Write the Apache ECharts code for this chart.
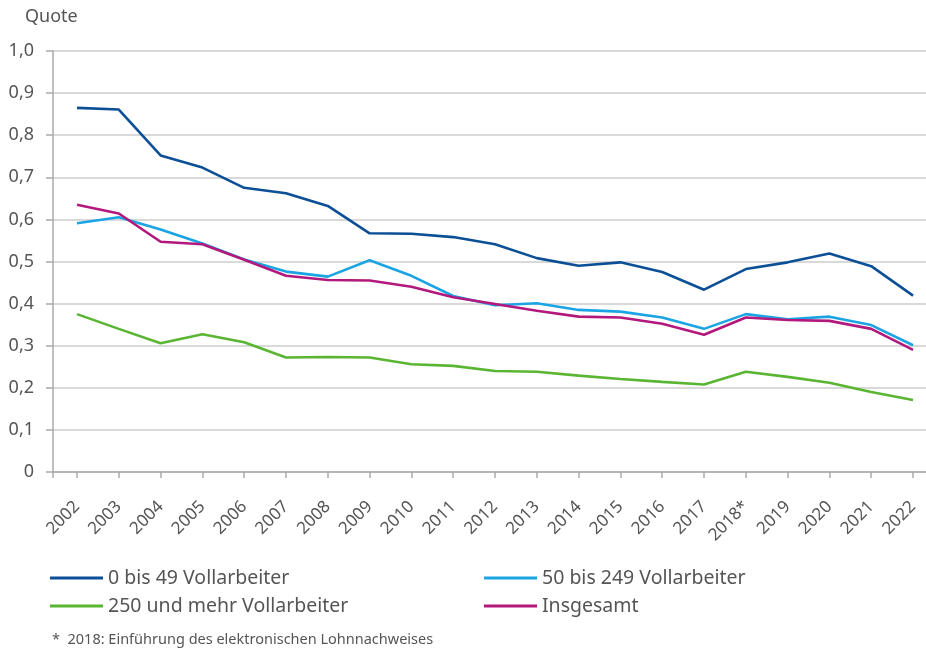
<!DOCTYPE html>
<html><head><meta charset="utf-8">
<script src="https://cdn.jsdelivr.net/npm/echarts@6/dist/echarts.min.js"></script>
<style>html,body{margin:0;padding:0;background:#fff}#c{width:926px;height:650px}</style>
</head><body><div id="c"></div>
<script>
const years = [2002,2003,2004,2005,2006,2007,2008,2009,2010,2011,2012,2013,2014,2015,2016,2017,2018,2019,2020,2021,2022];
const yearLabels = ['2002','2003','2004','2005','2006','2007','2008','2009','2010','2011','2012','2013','2014','2015','2016','2017','2018*','2019','2020','2021','2022'];
const small = [0.865,0.861,0.752,0.723,0.675,0.662,0.632,0.567,0.566,0.558,0.541,0.508,0.490,0.498,0.475,0.433,0.482,0.498,0.519,0.489,0.419];
const medium = [0.591,0.605,0.576,0.543,0.505,0.476,0.464,0.503,0.466,0.418,0.396,0.401,0.385,0.381,0.367,0.340,0.375,0.363,0.369,0.349,0.301];
const large = [0.375,0.340,0.306,0.327,0.308,0.272,0.273,0.272,0.256,0.252,0.240,0.238,0.229,0.221,0.214,0.208,0.238,0.226,0.212,0.190,0.171];
const total = [0.635,0.614,0.547,0.541,0.504,0.466,0.456,0.455,0.440,0.415,0.399,0.383,0.369,0.367,0.352,0.326,0.367,0.361,0.359,0.340,0.290];
const seriesNames = ['0 bis 49 Vollarbeiter','50 bis 249 Vollarbeiter','250 und mehr Vollarbeiter','Insgesamt'];
const colors = ['#0b4f96','#1ba4e4','#5ab533','#b3197c'];

const FONT = '"Noto Sans", sans-serif';
const TXT = '#555555';
const xMin = 2001.426, xMax = 2022.31;
const pairs = arr => years.map((y,i)=>[y, arr[i]]);
const allSeries = [small, medium, large, total];

const chart = echarts.init(document.getElementById('c'), null, {renderer:'canvas'});
const legendPos = [[50,568],[484,568],[50,596],[484,596]];
chart.setOption({
  animation:false,
  title:{text:'Quote', left:25, top:8, padding:0, textStyle:{fontFamily:FONT, fontSize:18, fontWeight:'normal', color:TXT}},
  grid:{left:53, right:0, top:51, bottom:178, containLabel:false},
  xAxis:{type:'value', min:xMin, max:xMax,
    axisLine:{show:true, onZero:false, lineStyle:{color:'#aaaaaa', width:1.5}},
    axisTick:{show:true, length:6, customValues:[xMin].concat(years), lineStyle:{color:'#aaaaaa', width:1.5}},
    axisLabel:{customValues:years, rotate:45, margin:32, fontFamily:FONT, fontSize:17, color:TXT,
      formatter:v=>{const i=years.indexOf(Math.round(v)); return i>=0?yearLabels[i]:'';}},
    splitLine:{show:false}},
  yAxis:{type:'value', min:0, max:1, interval:0.1,
    axisLine:{show:true, lineStyle:{color:'#aaaaaa', width:1.5}},
    axisTick:{show:true, length:7, lineStyle:{color:'#aaaaaa', width:1.5}},
    axisLabel:{margin:19, fontFamily:FONT, fontSize:18, color:TXT,
      formatter:v=>{const r=Math.round(v*10)/10; return r===0?'0':r.toFixed(1).replace('.',',');}},
    splitLine:{show:true, lineStyle:{color:'#cccccc', width:1.5}}},
  legend: seriesNames.map((n,i)=>({data:[n], left:legendPos[i][0], top:legendPos[i][1], icon:'rect', itemWidth:53, itemHeight:3, itemGap:0,
    padding:0, textStyle:{fontFamily:FONT, fontSize:19.5, color:TXT}})),
  graphic:[{type:'text', left:52, top:632, style:{text:'*  2018: Einführung des elektronischen Lohnnachweises', font:'14.5px '+FONT, fill:TXT}}],
  series: seriesNames.map((n,i)=>({name:n, type:'line', data:pairs(allSeries[i]), showSymbol:false, symbol:'none',
    lineStyle:{color:colors[i], width:2.6}, itemStyle:{color:colors[i]}}))
});
</script></body></html>
